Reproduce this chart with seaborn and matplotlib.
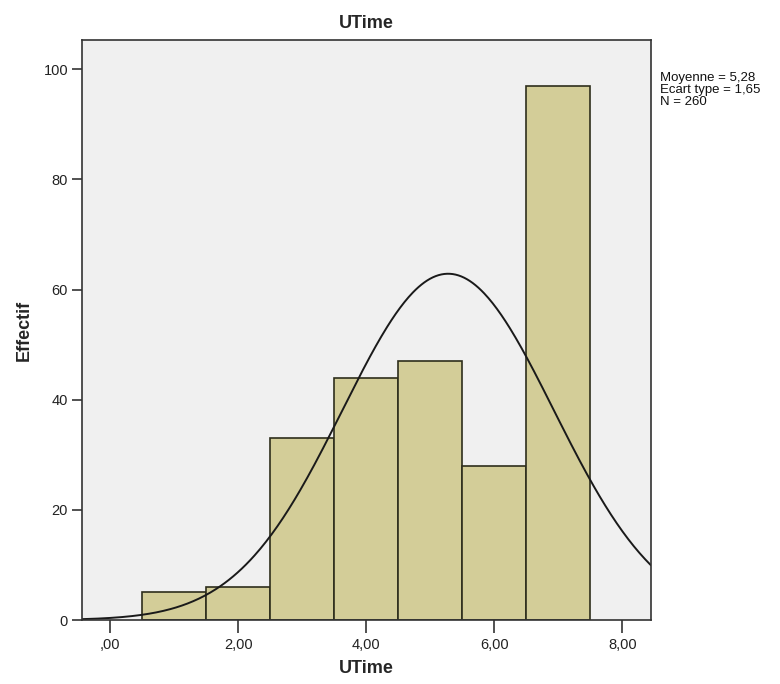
import numpy as np
import pandas as pd
import matplotlib
matplotlib.use("Agg")
import matplotlib.pyplot as plt
import seaborn as sns

# Data
bin_centers = [1, 2, 3, 4, 5, 6, 7]
counts = [5, 6, 33, 44, 47, 28, 97]
bin_edges = [0.5, 1.5, 2.5, 3.5, 4.5, 5.5, 6.5, 7.5]
mean_val = 5.28
sd_val = 1.65
n_val = 260
x_ticks = [0, 2, 4, 6, 8]
x_tick_labels = [",00", "2,00", "4,00", "6,00", "8,00"]
y_ticks = [0, 20, 40, 60, 80, 100]
stats_lines = ["Moyenne = 5,28", "Ecart type = 1,65", "N = 260"]

sns.set_style("white")
plt.rcParams["font.family"] = ["Liberation Sans", "DejaVu Sans"]

fig = plt.figure(figsize=(7.8, 6.84), dpi=100)
ax = fig.add_axes([82/780, 64/684, (651-82)/780, (620-40)/684])
ax.set_facecolor("#F0F0F0")

df = pd.DataFrame({"UTime": bin_centers, "n": counts})
sns.histplot(data=df, x="UTime", weights="n", bins=bin_edges, ax=ax,
             color="#D3CD98", edgecolor="#2E2E1C", linewidth=1.2, alpha=1.0)

xs = np.linspace(-0.44, 8.45, 400)
bw = bin_edges[1] - bin_edges[0]
ys = n_val * bw / (sd_val * np.sqrt(2 * np.pi)) * np.exp(-0.5 * ((xs - mean_val) / sd_val) ** 2)
sns.lineplot(x=xs, y=ys, ax=ax, color="#1a1a1a", linewidth=1.4)

ax.set_xlim(-0.44, 8.45)
ax.set_ylim(0, 105.3)
ax.set_xticks(x_ticks)
ax.set_xticklabels(x_tick_labels, fontsize=10.5)
ax.set_yticks(y_ticks)
ax.set_yticklabels([str(v) for v in y_ticks], fontsize=10.5)
ax.tick_params(axis="both", bottom=True, left=True, direction="out", length=7,
               width=1.2, color="#333333", pad=3, labelcolor="#222222")
ax.tick_params(axis="x", length=9, pad=4)
for s in ax.spines.values():
    s.set_color("#333333")
    s.set_linewidth(1.2)

ax.set_xlabel("UTime", fontsize=13, fontweight="bold", labelpad=6)
ax.set_ylabel("Effectif", fontsize=13, fontweight="bold", labelpad=8)
ax.set_title("UTime", fontsize=13, fontweight="bold", pad=9)

fig.text(660/780, 1 - 90/684, "\n".join(stats_lines), fontsize=9.5,
         va="center", ha="left", linespacing=1.05, color="#111111")

fig.savefig("out.png", dpi=100)
